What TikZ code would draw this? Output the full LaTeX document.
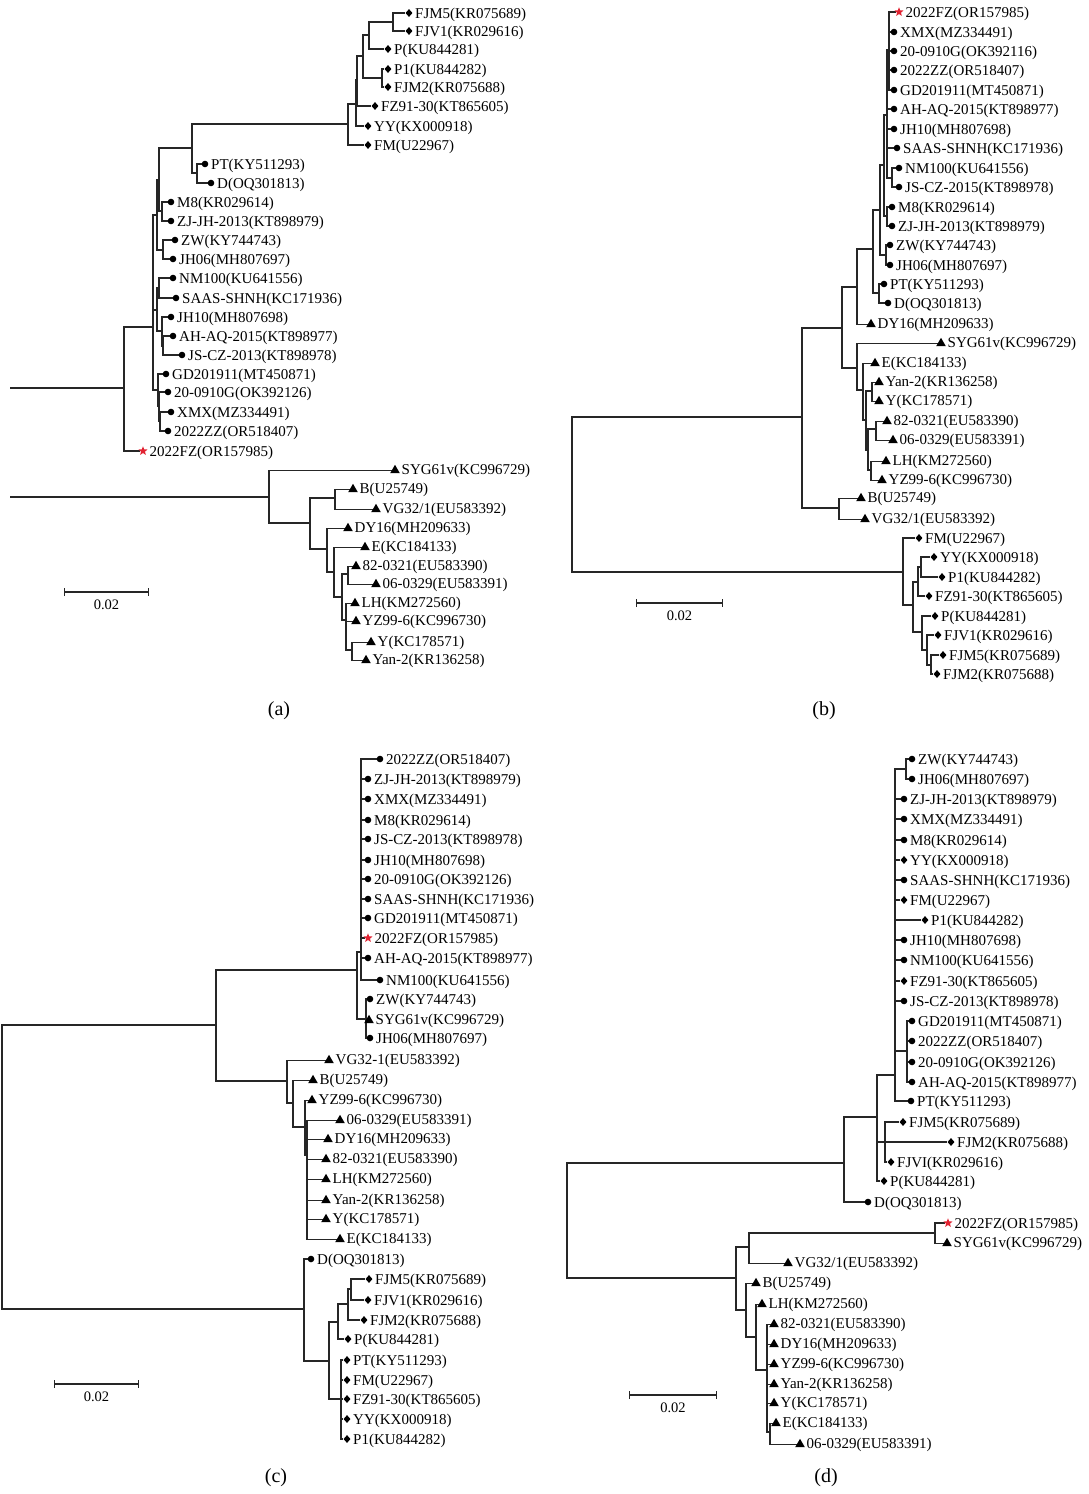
\documentclass[tikz,border=0pt]{standalone}
\usepackage{fontspec}
\setmainfont{Liberation Serif}
\usetikzlibrary{shapes.geometric,backgrounds,arrows.meta}
\definecolor{starred}{RGB}{225,35,50}
\tikzset{
 edge/.style={line width=1.1pt, draw=black!85},
 mc/.style={circle, fill=black, inner sep=0pt, minimum size=6.6pt},
 md/.style={diamond, fill=black, inner sep=0pt, minimum width=7pt, minimum height=8pt},
 mt/.style={regular polygon, regular polygon sides=3, fill=black, inner sep=0pt, minimum size=11.2pt, yshift=-1.4pt},
 ms/.style={star, star points=5, star point ratio=2.3, fill=starred, inner sep=0pt, minimum size=9.5pt},
 lab/.style={anchor=base west, inner sep=0pt, font=\fontsize{15}{18}\selectfont},
 sbar/.style={edge, {Bar[width=8pt]}-{Bar[width=8pt]}},
 sblab/.style={anchor=north, inner sep=0pt, font=\fontsize{14.5}{17}\selectfont},
 panelcap/.style={inner sep=0pt, font=\fontsize{20}{24}\selectfont}
}
\newcommand\tipC[4]{\node[mc] (#1) at (#2,#3) {}; \node[lab] (#1l) at ([xshift=6pt,yshift=-5pt]#2,#3) {#4};}
\newcommand\tipD[4]{\node[md] (#1) at (#2,#3) {}; \node[lab] (#1l) at ([xshift=6pt,yshift=-5pt]#2,#3) {#4};}
\newcommand\tipT[4]{\node[mt] (#1) at (#2,#3) {}; \node[lab] (#1l) at ([xshift=6.5pt,yshift=-5pt]#2,#3) {#4};}
\newcommand\tipS[4]{\node[ms] (#1) at (#2,#3) {}; \node[lab] (#1l) at ([xshift=6.5pt,yshift=-5pt]#2,#3) {#4};}
\newcommand\br[2]{\foreach \kid in {#2}{\draw[edge] (#1) |- (\kid);}}
\begin{document}
\begin{tikzpicture}[x=1pt,y=-1pt]
\useasboundingbox (0,0) rectangle (1088,1494);
% ================= (a) =================
\tipD{aFJM5}{409}{13}{FJM5(KR075689)}
\tipD{aFJV1}{409}{31}{FJV1(KR029616)}
\tipD{aP}{388}{49}{P(KU844281)}
\tipD{aP1}{388}{69}{P1(KU844282)}
\tipD{aFJM2}{388}{87}{FJM2(KR075688)}
\tipD{aFZ91}{375}{106}{FZ91-30(KT865605)}
\tipD{aYY}{368}{126}{YY(KX000918)}
\tipD{aFM}{368}{145}{FM(U22967)}
\tipC{aPT}{205}{164}{PT(KY511293)}
\tipC{aD}{211}{183}{D(OQ301813)}
\tipC{aM8}{171}{202}{M8(KR029614)}
\tipC{aZJ}{171}{221}{ZJ-JH-2013(KT898979)}
\tipC{aZW}{175}{240}{ZW(KY744743)}
\tipC{aJH06}{173}{259}{JH06(MH807697)}
\tipC{aNM}{173}{278}{NM100(KU641556)}
\tipC{aSAAS}{176}{298}{SAAS-SHNH(KC171936)}
\tipC{aJH10}{171}{317}{JH10(MH807698)}
\tipC{aAH}{173}{336}{AH-AQ-2015(KT898977)}
\tipC{aJS}{182}{355}{JS-CZ-2013(KT898978)}
\tipC{aGD}{166}{374}{GD201911(MT450871)}
\tipC{a20}{168}{392}{20-0910G(OK392126)}
\tipC{aXMX}{171}{412}{XMX(MZ334491)}
\tipC{aZZ}{168}{431}{2022ZZ(OR518407)}
\tipS{aFZ}{143}{451}{2022FZ(OR157985)}
\tipT{aSYG}{395}{469}{SYG61v(KC996729)}
\tipT{aB}{353}{488}{B(U25749)}
\tipT{aVG}{376}{508}{VG32/1(EU583392)}
\tipT{aDY}{348}{527}{DY16(MH209633)}
\tipT{aE}{365}{546}{E(KC184133)}
\tipT{a82}{356}{565}{82-0321(EU583390)}
\tipT{a06}{376}{583}{06-0329(EU583391)}
\tipT{aLH}{355}{602}{LH(KM272560)}
\tipT{aYZ}{356}{620}{YZ99-6(KC996730)}
\tipT{aY}{371}{641}{Y(KC178571)}
\tipT{aYan}{366}{659}{Yan-2(KR136258)}
\coordinate (aR1) at (10,388);
\coordinate (a0) at (124,388);
\coordinate (aM) at (153,327);
\coordinate (aN2) at (157,215);
\coordinate (aN1) at (159,180);
\coordinate (aC192) at (192,148);
\coordinate (aPTD) at (197,173);
\coordinate (aM8ZJ) at (162,211);
\coordinate (aZWJ) at (163,250);
\coordinate (aN4) at (157,310);
\coordinate (aNMS) at (159,288);
\coordinate (aJAJ) at (162,331);
\coordinate (aAJ) at (163,346);
\coordinate (aG0) at (158,390);
\coordinate (aG2) at (159,406);
\coordinate (aG3) at (160,421);
\coordinate (aD6) at (348,124);
\coordinate (aD5) at (356,104);
\coordinate (aD4) at (357,80);
\coordinate (aD3) at (363,56);
\coordinate (aD2) at (369,35);
\coordinate (aDFJ) at (393,22);
\coordinate (aDP1) at (382,78);
\coordinate (aR2) at (10,497);
\coordinate (aL0) at (269,497);
\coordinate (aQ) at (310,523);
\coordinate (aBV) at (335,498);
\coordinate (aPn) at (327,549);
\coordinate (aO) at (334,572);
\coordinate (aK2) at (342,597);
\coordinate (a8206) at (348,574);
\coordinate (aK1) at (346,620);
\coordinate (aYYn) at (352,650);
% ================= (b) =================
\tipS{bFZ}{899}{12}{2022FZ(OR157985)}
\tipC{bXMX}{894}{32}{XMX(MZ334491)}
\tipC{b20}{894}{51}{20-0910G(OK392116)}
\tipC{bZZ}{894}{70}{2022ZZ(OR518407)}
\tipC{bGD}{894}{90}{GD201911(MT450871)}
\tipC{bAH}{894}{109}{AH-AQ-2015(KT898977)}
\tipC{bJH10}{894}{129}{JH10(MH807698)}
\tipC{bSAAS}{897}{148}{SAAS-SHNH(KC171936)}
\tipC{bNM}{899}{168}{NM100(KU641556)}
\tipC{bJS}{899}{187}{JS-CZ-2015(KT898978)}
\tipC{bM8}{892}{207}{M8(KR029614)}
\tipC{bZJ}{892}{226}{ZJ-JH-2013(KT898979)}
\tipC{bZW}{890}{245}{ZW(KY744743)}
\tipC{bJH06}{890}{265}{JH06(MH807697)}
\tipC{bPT}{884}{284}{PT(KY511293)}
\tipC{bD}{888}{303}{D(OQ301813)}
\tipT{bDY}{871}{323}{DY16(MH209633)}
\tipT{bSYG}{941}{342}{SYG61v(KC996729)}
\tipT{bE}{875}{362}{E(KC184133)}
\tipT{bYan}{879}{381}{Yan-2(KR136258)}
\tipT{bY}{879}{400}{Y(KC178571)}
\tipT{b82}{887}{420}{82-0321(EU583390)}
\tipT{b06}{893}{439}{06-0329(EU583391)}
\tipT{bLH}{886}{460}{LH(KM272560)}
\tipT{bYZ}{882}{479}{YZ99-6(KC996730)}
\tipT{bB}{861}{497}{B(U25749)}
\tipT{bVG}{865}{518}{VG32/1(EU583392)}
\tipD{bFM}{919}{538}{FM(U22967)}
\tipD{bYY}{934}{557}{YY(KX000918)}
\tipD{bP1}{942}{577}{P1(KU844282)}
\tipD{bFZ91}{929}{596}{FZ91-30(KT865605)}
\tipD{bP}{935}{616}{P(KU844281)}
\tipD{bFJV1}{938}{635}{FJV1(KR029616)}
\tipD{bFJM5}{943}{655}{FJM5(KR075689)}
\tipD{bFJM2}{937}{674}{FJM2(KR075688)}
\coordinate (bR) at (572,495);
\coordinate (bU) at (802,417);
\coordinate (bU1) at (842,328);
\coordinate (bU2) at (857,287);
\coordinate (bC) at (873,249);
\coordinate (bCw) at (880,210);
\coordinate (bPTD) at (879,293);
\coordinate (bCx) at (884,165);
\coordinate (bZWJ) at (886,255);
\coordinate (bCy) at (887,115);
\coordinate (bM8ZJ) at (887,216);
\coordinate (bCz) at (889,50);
\coordinate (bNMJS) at (892,178);
\coordinate (bT) at (857,368);
\coordinate (bT2) at (863,390);
\coordinate (bT3) at (866,420);
\coordinate (bYanY) at (872,391);
\coordinate (bT4) at (868,450);
\coordinate (b8206) at (876,429);
\coordinate (bLHYZ) at (871,470);
\coordinate (bBV) at (839,508);
\coordinate (bDC) at (903,572);
\coordinate (bD1) at (913,605);
\coordinate (bD2) at (918,582);
\coordinate (bYYP1) at (921,567);
\coordinate (bD3) at (922,632);
\coordinate (bD4) at (927,650);
\coordinate (bD5) at (931,665);
% ================= (c) =================
\tipC{cZZ}{380}{759}{2022ZZ(OR518407)}
\tipC{cZJ}{368}{779}{ZJ-JH-2013(KT898979)}
\tipC{cXMX}{368}{799}{XMX(MZ334491)}
\tipC{cM8}{368}{820}{M8(KR029614)}
\tipC{cJS}{368}{839}{JS-CZ-2013(KT898978)}
\tipC{cJH10}{368}{860}{JH10(MH807698)}
\tipC{c20}{368}{879}{20-0910G(OK392126)}
\tipC{cSAAS}{368}{899}{SAAS-SHNH(KC171936)}
\tipC{cGD}{368}{918}{GD201911(MT450871)}
\tipS{cFZ}{368}{938}{2022FZ(OR157985)}
\tipC{cAH}{368}{958}{AH-AQ-2015(KT898977)}
\tipC{cNM}{380}{980}{NM100(KU641556)}
\tipC{cZW}{370}{999}{ZW(KY744743)}
\tipT{cSYG}{369}{1019}{SYG61v(KC996729)}
\tipC{cJH06}{370}{1038}{JH06(MH807697)}
\tipT{cVG}{329}{1059}{VG32-1(EU583392)}
\tipT{cB}{313}{1079}{B(U25749)}
\tipT{cYZ}{312}{1099}{YZ99-6(KC996730)}
\tipT{c06}{340}{1119}{06-0329(EU583391)}
\tipT{cDY}{328}{1138}{DY16(MH209633)}
\tipT{c82}{326}{1158}{82-0321(EU583390)}
\tipT{cLH}{326}{1178}{LH(KM272560)}
\tipT{cYan}{326}{1199}{Yan-2(KR136258)}
\tipT{cY}{326}{1218}{Y(KC178571)}
\tipT{cE}{340}{1238}{E(KC184133)}
\tipC{cD}{311}{1259}{D(OQ301813)}
\tipD{cFJM5}{369}{1279}{FJM5(KR075689)}
\tipD{cFJV1}{368}{1300}{FJV1(KR029616)}
\tipD{cFJM2}{364}{1320}{FJM2(KR075688)}
\tipD{cP}{348}{1339}{P(KU844281)}
\tipD{cPT}{347}{1360}{PT(KY511293)}
\tipD{cFM}{347}{1380}{FM(U22967)}
\tipD{cFZ91}{347}{1399}{FZ91-30(KT865605)}
\tipD{cYY}{347}{1419}{YY(KX000918)}
\tipD{cP1}{347}{1439}{P1(KU844282)}
\coordinate (cR) at (2,1167);
\coordinate (cU) at (216,1025);
\coordinate (cCC) at (357,970);
\coordinate (cBig) at (361,952);
\coordinate (cSm) at (366,1019);
\coordinate (cT) at (287,1081);
\coordinate (cTb) at (293,1103);
\coordinate (cTc) at (305,1127);
\coordinate (cTd) at (307,1155);
\coordinate (cDC) at (304,1309);
\coordinate (cDc) at (329,1361);
\coordinate (cDd) at (338,1322);
\coordinate (cDf) at (348,1304);
\coordinate (cDg) at (351,1289);
\coordinate (cDe) at (341,1399);
% ================= (d) =================
\tipC{dZW}{912}{759}{ZW(KY744743)}
\tipC{dJH06}{912}{779}{JH06(MH807697)}
\tipC{dZJ}{904}{799}{ZJ-JH-2013(KT898979)}
\tipC{dXMX}{904}{819}{XMX(MZ334491)}
\tipC{dM8}{904}{840}{M8(KR029614)}
\tipD{dYY}{904}{860}{YY(KX000918)}
\tipC{dSAAS}{904}{880}{SAAS-SHNH(KC171936)}
\tipD{dFM}{904}{900}{FM(U22967)}
\tipD{dP1}{925}{920}{P1(KU844282)}
\tipC{dJH10}{904}{940}{JH10(MH807698)}
\tipC{dNM}{904}{960}{NM100(KU641556)}
\tipD{dFZ91}{904}{981}{FZ91-30(KT865605)}
\tipC{dJS}{904}{1001}{JS-CZ-2013(KT898978)}
\tipC{dGD}{912}{1021}{GD201911(MT450871)}
\tipC{dZZ}{912}{1041}{2022ZZ(OR518407)}
\tipC{d20}{912}{1062}{20-0910G(OK392126)}
\tipC{dAH}{912}{1082}{AH-AQ-2015(KT898977)}
\tipC{dPT}{911}{1101}{PT(KY511293)}
\tipD{dFJM5}{903}{1122}{FJM5(KR075689)}
\tipD{dFJM2}{951}{1142}{FJM2(KR075688)}
\tipD{dFJVI}{891}{1162}{FJVI(KR029616)}
\tipD{dP}{884}{1181}{P(KU844281)}
\tipC{dD}{868}{1202}{D(OQ301813)}
\tipS{dFZ}{948}{1223}{2022FZ(OR157985)}
\tipT{dSYG}{947}{1242}{SYG61v(KC996729)}
\tipT{dVG}{788}{1262}{VG32/1(EU583392)}
\tipT{dB}{756}{1282}{B(U25749)}
\tipT{dLH}{762}{1303}{LH(KM272560)}
\tipT{d82}{774}{1323}{82-0321(EU583390)}
\tipT{dDY}{774}{1343}{DY16(MH209633)}
\tipT{dYZ}{774}{1363}{YZ99-6(KC996730)}
\tipT{dYan}{774}{1383}{Yan-2(KR136258)}
\tipT{dY}{774}{1402}{Y(KC178571)}
\tipT{dE}{776}{1422}{E(KC184133)}
\tipT{d06}{800}{1443}{06-0329(EU583391)}
\coordinate (dR) at (567,1220);
\coordinate (dU) at (844,1163);
\coordinate (dU1) at (877,1117);
\coordinate (dM) at (895,1075);
\coordinate (dZWJ) at (906,769);
\coordinate (dG) at (907,1051);
\coordinate (dF) at (885,1142);
\coordinate (dL) at (736,1278);
\coordinate (dL1) at (749,1247);
\coordinate (dFS) at (935,1233);
\coordinate (dL2) at (746,1310);
\coordinate (dL3) at (756,1337);
\coordinate (dL4) at (767,1370);
\coordinate (dL5) at (770,1432);
% ================= edges =================
\begin{scope}[on background layer]
\draw[edge] (aR1) -- (a0);
\br{a0}{aM,aFZ}
\br{aM}{aN2,aN4,aG0}
\br{aN2}{aN1,aZWJ}
\br{aN1}{aC192,aM8ZJ}
\br{aC192}{aD6,aPTD}
\br{aPTD}{aPT,aD}
\br{aM8ZJ}{aM8,aZJ}
\br{aZWJ}{aZW,aJH06}
\br{aN4}{aNMS,aJAJ}
\br{aNMS}{aNM,aSAAS}
\br{aJAJ}{aJH10,aAJ}
\br{aAJ}{aAH,aJS}
\br{aG0}{aGD,aG2}
\br{aG2}{a20,aG3}
\br{aG3}{aXMX,aZZ}
\br{aD6}{aD5,aFM}
\br{aD5}{aD4,aYY}
\br{aD4}{aD3,aFZ91}
\br{aD3}{aD2,aDP1}
\br{aD2}{aDFJ,aP}
\br{aDFJ}{aFJM5,aFJV1}
\br{aDP1}{aP1,aFJM2}
\draw[edge] (aR2) -- (aL0);
\br{aL0}{aSYG,aQ}
\br{aQ}{aBV,aPn}
\br{aBV}{aB,aVG}
\br{aPn}{aDY,aO}
\br{aO}{aE,aK2}
\br{aK2}{a8206,aK1}
\br{a8206}{a82,a06}
\br{aK1}{aLH,aYZ,aYYn}
\br{aYYn}{aY,aYan}
%
\br{bR}{bU,bDC}
\br{bU}{bU1,bBV}
\br{bU1}{bU2,bT}
\br{bU2}{bC,bDY}
\br{bC}{bCw,bPTD}
\br{bPTD}{bPT,bD}
\br{bCw}{bCx,bZWJ}
\br{bZWJ}{bZW,bJH06}
\br{bCx}{bCy,bM8ZJ}
\br{bM8ZJ}{bM8,bZJ}
\br{bCy}{bCz,bAH,bJH10,bSAAS,bNMJS}
\br{bNMJS}{bNM,bJS}
\br{bCz}{bFZ,bXMX,b20,bZZ,bGD}
\br{bT}{bSYG,bT2}
\br{bT2}{bE,bT3}
\br{bT3}{bYanY,bT4}
\br{bYanY}{bYan,bY}
\br{bT4}{b8206,bLHYZ}
\br{b8206}{b82,b06}
\br{bLHYZ}{bLH,bYZ}
\br{bBV}{bB,bVG}
\br{bDC}{bFM,bD1}
\br{bD1}{bD2,bD3}
\br{bD2}{bYYP1,bFZ91}
\br{bYYP1}{bYY,bP1}
\br{bD3}{bP,bD4}
\br{bD4}{bFJV1,bD5}
\br{bD5}{bFJM5,bFJM2}
%
\br{cR}{cU,cDC}
\br{cU}{cCC,cT}
\br{cCC}{cBig,cSm}
\br{cBig}{cZZ,cZJ,cXMX,cM8,cJS,cJH10,c20,cSAAS,cGD,cFZ,cAH,cNM}
\br{cSm}{cZW,cSYG,cJH06}
\br{cT}{cVG,cTb}
\br{cTb}{cB,cTc}
\br{cTc}{cYZ,cTd}
\br{cTd}{c06,cDY,c82,cLH,cYan,cY,cE}
\br{cDC}{cD,cDc}
\br{cDc}{cDd,cDe}
\br{cDd}{cDf,cP}
\br{cDf}{cDg,cFJM2}
\br{cDg}{cFJM5,cFJV1}
\br{cDe}{cPT,cFM,cFZ91,cYY,cP1}
%
\br{dR}{dU,dL}
\br{dU}{dU1,dD}
\br{dU1}{dM,dF,dP}
\br{dM}{dZWJ,dZJ,dXMX,dM8,dYY,dSAAS,dFM,dP1,dJH10,dNM,dFZ91,dJS,dG,dPT}
\br{dZWJ}{dZW,dJH06}
\br{dG}{dGD,dZZ,d20,dAH}
\br{dF}{dFJM5,dFJM2,dFJVI}
\br{dL}{dL1,dL2}
\br{dL1}{dFS,dVG}
\br{dFS}{dFZ,dSYG}
\br{dL2}{dB,dL3}
\br{dL3}{dLH,dL4}
\br{dL4}{d82,dDY,dYZ,dYan,dY,dL5}
\br{dL5}{dE,d06}
\end{scope}
% ================= scale bars and captions =================
\coordinate (sa1) at (64,592); \coordinate (sa2) at (149,592);
\draw[sbar] (sa1) -- (sa2); \node[sblab] (sal) at (106.5,600) {0.02};
\coordinate (sb1) at (636,603); \coordinate (sb2) at (723,603);
\draw[sbar] (sb1) -- (sb2); \node[sblab] (sbl) at (679.5,611) {0.02};
\coordinate (sc1) at (54,1384); \coordinate (sc2) at (139,1384);
\draw[sbar] (sc1) -- (sc2); \node[sblab] (scl) at (96.5,1392) {0.02};
\coordinate (sd1) at (629,1395); \coordinate (sd2) at (717,1395);
\draw[sbar] (sd1) -- (sd2); \node[sblab] (sdl) at (673,1403) {0.02};
\node[panelcap] (capa) at (279,711) {(a)};
\node[panelcap] (capb) at (824,711) {(b)};
\node[panelcap] (capc) at (276,1478) {(c)};
\node[panelcap] (capd) at (826,1478) {(d)};
\end{tikzpicture}
\end{document}
